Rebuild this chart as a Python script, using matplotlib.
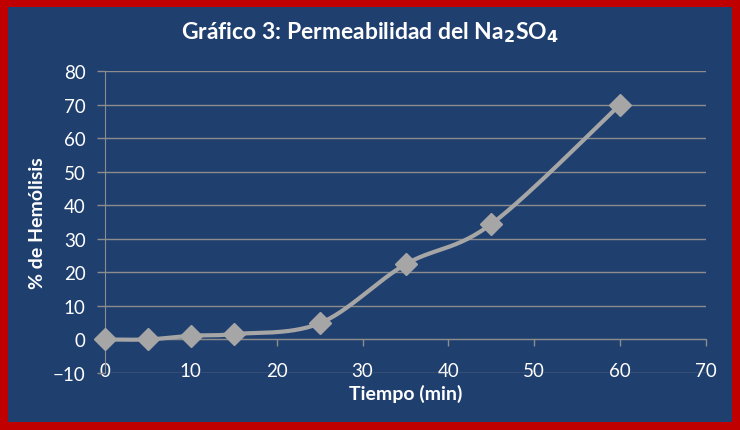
import numpy as np
import matplotlib
matplotlib.use('Agg')
import matplotlib.pyplot as plt
from matplotlib.patches import Rectangle

# data
tiempo = [0, 5, 10, 15, 25, 35, 45, 60]
hemolisis = [0, 0, 1.1, 1.6, 4.8, 22.4, 34.4, 70]

BG = '#1F3F6F'
RED = '#C00000'
GREY = '#A6A6A6'
GRID = '#8C8C8C'


def smooth(x, y, n=30):
    # Catmull-Rom style bezier, like the "smoothed line" option
    x = np.asarray(x, float)
    y = np.asarray(y, float)
    px = np.concatenate([[x[0]], x, [x[-1]]])
    py = np.concatenate([[y[0]], y, [y[-1]]])
    xs, ys = [], []
    t = np.linspace(0, 1, n)
    for i in range(1, len(px) - 2):
        p0 = np.array([px[i], py[i]])
        p3 = np.array([px[i + 1], py[i + 1]])
        p1 = p0 + (np.array([px[i + 1], py[i + 1]]) - np.array([px[i - 1], py[i - 1]])) / 6
        p2 = p3 - (np.array([px[i + 2], py[i + 2]]) - np.array([px[i], py[i]])) / 6
        b = (np.outer((1 - t) ** 3, p0) + np.outer(3 * (1 - t) ** 2 * t, p1)
             + np.outer(3 * (1 - t) * t ** 2, p2) + np.outer(t ** 3, p3))
        xs.extend(b[:, 0])
        ys.extend(b[:, 1])
    return np.array(xs), np.array(ys)


plt.rcParams['font.family'] = ['Lato', 'DejaVu Sans']

fig = plt.figure(figsize=(7.4, 4.31), dpi=100)
fig.patch.set_facecolor(RED)
fig.patches.append(Rectangle((8 / 740, 8 / 431), 724 / 740, 415 / 431,
                             transform=fig.transFigure, facecolor=BG,
                             edgecolor='none', zorder=-5))

ax = fig.add_axes([105 / 740, 57 / 431, 601 / 740, 302 / 431])
ax.set_zorder(2)
ax.set_facecolor(BG)
ax.set_xlim(0, 70)
ax.set_ylim(-10, 80)

ax.set_yticks(np.arange(-10, 81, 10))
ax.set_xticks(np.arange(0, 71, 10))
ax.grid(axis='y', color=GRID, linewidth=1)
ax.set_axisbelow(True)

for s in ['top', 'right']:
    ax.spines[s].set_visible(False)
ax.spines['left'].set_color(GRID)
ax.spines['bottom'].set_color(GRID)
ax.spines['bottom'].set_position(('data', 0))

ax.tick_params(axis='y', colors=GRID, labelcolor='white', labelsize=13.5,
               length=6, width=1, pad=8)
ax.tick_params(axis='x', colors=GRID, labelcolor='white', labelsize=13.5,
               length=5, width=1, pad=11)

sx, sy = smooth(tiempo, hemolisis)
ax.plot(sx, sy, color=GREY, linewidth=3, zorder=3, clip_on=False)
ax.plot(tiempo, hemolisis, linestyle='none', marker='D', markersize=11,
        color=GREY, zorder=4, clip_on=False)

ax.set_xlabel('Tiempo (min)', color='white', fontsize=14, fontweight='bold',
              labelpad=4)
ax.set_ylabel('% de Hemólisis', color='white', fontsize=14, fontweight='bold',
              labelpad=5)

fig.text(0.5, 1 - 33 / 431, r'Gráfico 3: Permeabilidad del Na$_\mathbf{2}$SO$_\mathbf{4}$',
         color='white', fontsize=16.5, fontweight='bold', ha='center', va='center')

fig.savefig('out.png', dpi=100, facecolor=fig.get_facecolor())
